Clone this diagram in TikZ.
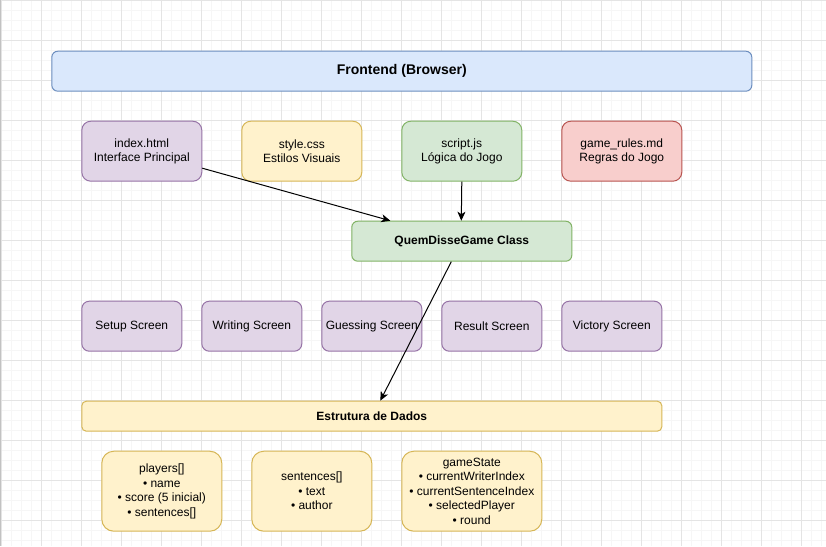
\documentclass[tikz,border=0pt]{standalone}
\usepackage{fontspec}
\setmainfont{Liberation Sans}
\usetikzlibrary{arrows.meta}
\definecolor{gridmajor}{RGB}{228,228,228}
\definecolor{gridminor}{RGB}{246,246,246}
\definecolor{bluefill}{HTML}{DAE8FC}\definecolor{bluedraw}{HTML}{6C8EBF}
\definecolor{purplefill}{HTML}{E1D5E7}\definecolor{purpledraw}{HTML}{9673A6}
\definecolor{yellowfill}{HTML}{FFF2CC}\definecolor{yellowdraw}{HTML}{D6B656}
\definecolor{greenfill}{HTML}{D5E8D4}\definecolor{greendraw}{HTML}{82B366}
\definecolor{redfill}{HTML}{F8CECC}\definecolor{reddraw}{HTML}{B85450}
\tikzset{
  box/.style={draw, line width=1pt, inner sep=0pt, anchor=north west, align=center,
    font=\fontsize{12}{14.5}\selectfont},
  bluebox/.style={box, fill=bluefill, draw=bluedraw},
  purplebox/.style={box, fill=purplefill, draw=purpledraw},
  yellowbox/.style={box, fill=yellowfill, draw=yellowdraw},
  greenbox/.style={box, fill=greenfill, draw=greendraw},
  redbox/.style={box, fill=redfill, draw=reddraw},
  filebox/.style={minimum width=120pt, minimum height=60pt, rounded corners=9pt},
  screenbox/.style={purplebox, minimum width=100pt, minimum height=50pt, rounded corners=7.5pt},
  databox/.style={yellowbox, minimum height=80pt, rounded corners=12pt},
  conn/.style={draw=black, line width=1pt, -{Stealth[length=9pt,width=8pt,inset=2.5pt]}},
  minorline/.style={draw=gridminor, line width=1pt},
  majorline/.style={draw=gridmajor, line width=1pt}
}
\begin{document}
\begin{tikzpicture}[x=1pt,y=-1pt]
\useasboundingbox (0,0) rectangle (826,546);
\fill[white] (0,0) rectangle (826,546);
% grid
\foreach \i in {0,...,82} \draw[minorline] (\i*10+1.3,0) -- (\i*10+1.3,546);
\foreach \j in {0,...,54} \draw[minorline] (0,\j*10+0.7) -- (826,\j*10+0.7);
\foreach \i in {0,...,20} \draw[majorline] (\i*40+1.3,0) -- (\i*40+1.3,546);
\foreach \j in {0,...,13} \draw[majorline] (0,\j*40+0.7) -- (826,\j*40+0.7);
\draw[draw=gridmajor!85!black, line width=1pt] (0.5,0) -- (0.5,546);
\begin{scope}[shift={(1.3,0.7)}]
\node[bluebox, minimum width=700pt, minimum height=40pt, rounded corners=6pt,
  font=\fontsize{14}{16}\selectfont\bfseries] (fe) at (50,50) {Frontend (Browser)};
\node[purplebox, filebox] (idx) at (80,120) {index.html\\Interface Principal};
\node[yellowbox, filebox] (css) at (240,120) {style.css\\Estilos Visuais};
\node[greenbox, filebox] (js) at (400,120) {script.js\\Lógica do Jogo};
\node[redbox, filebox] (md) at (560,120) {game\_rules.md\\Regras do Jogo};
\node[greenbox, minimum width=220pt, minimum height=40pt, rounded corners=6pt,
  font=\fontsize{12}{14.5}\selectfont\bfseries] (qd) at (350,220) {QuemDisseGame Class};
\node[screenbox] (s1) at (80,300) {Setup Screen};
\node[screenbox] (s2) at (200,300) {Writing Screen};
\node[screenbox] (s3) at (320,300) {Guessing Screen};
\node[screenbox] (s4) at (440,300) {Result Screen};
\node[screenbox] (s5) at (560,300) {Victory Screen};
\node[yellowbox, minimum width=580pt, minimum height=30pt, rounded corners=4.5pt,
  font=\fontsize{12}{14.5}\selectfont\bfseries] (est) at (80,400) {Estrutura de Dados};
\node[databox, minimum width=120pt] (pl) at (100,450) {players[]\\• name\\• score (5 inicial)\\• sentences[]};
\node[databox, minimum width=120pt] (se) at (250,450) {sentences[]\\• text\\• author};
\node[databox, minimum width=140pt] (gs) at (400,450) {gameState\\• currentWriterIndex\\• currentSentenceIndex\\• selectedPlayer\\• round};
\draw[conn] ([yshift=-17pt]idx.east) -- ([xshift=39pt]qd.north west);
\draw[conn] (js.south) -- ([xshift=110pt]qd.north west);
\draw[conn] ([xshift=100pt]qd.south west) -- ([xshift=299pt]est.north west);
\end{scope}
\end{tikzpicture}
\end{document}
